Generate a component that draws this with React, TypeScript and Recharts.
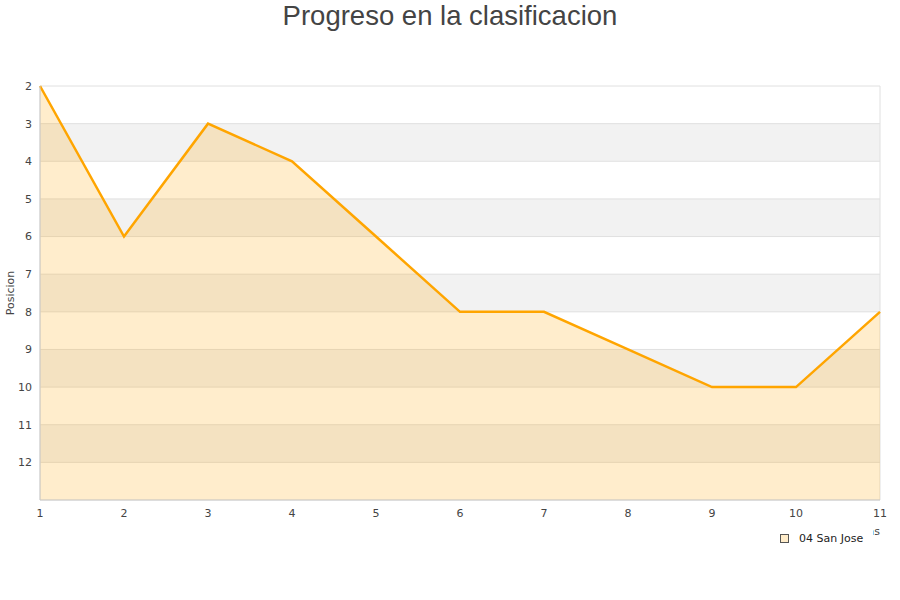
import {
  Area,
  CartesianGrid,
  ComposedChart,
  Label,
  XAxis,
  YAxis,
} from 'recharts';

const ORANGE = '#ffa500';
const FONT = '"DejaVu Sans", sans-serif';

// matchdays and league position after each one
const jornadas = [1, 2, 3, 4, 5, 6, 7, 8, 9, 10, 11];
const posiciones = [2, 6, 3, 4, 6, 8, 8, 9, 10, 10, 8];
const yTicks = [2, 3, 4, 5, 6, 7, 8, 9, 10, 11, 12, 13];
const equipo = '04 San Jose';

const data = jornadas.map((j, i) => ({ jornada: j, posicion: posiciones[i] }));

function LegendBox() {
  return (
    <div
      style={{
        position: 'absolute',
        left: 776,
        top: 527,
        background: '#fff',
        width: 97,
        height: 22,
        display: 'flex',
        alignItems: 'center',
        fontFamily: FONT,
        fontSize: 11,
        color: '#222',
      }}
    >
      <span
        style={{
          display: 'inline-block',
          width: 7,
          height: 7,
          border: '1px solid #555',
          background: '#ffecc9',
          marginLeft: 4,
          marginRight: 10,
        }}
      />
      {equipo}
    </div>
  );
}

export default function App() {
  return (
    <div style={{ position: 'absolute', left: 0, top: 0, width: 900, height: 600, background: '#fff' }}>
      <div
        style={{
          position: 'absolute',
          top: 0,
          width: 900,
          textAlign: 'center',
          fontFamily: '"Liberation Sans", Arial, sans-serif',
          fontSize: 27.5,
          color: '#444',
          lineHeight: '32px',
        }}
      >
        Progreso en la clasificacion
      </div>
      <ComposedChart width={900} height={600} data={data} margin={{ top: 86, right: 20, bottom: 70, left: 0 }}>
        <CartesianGrid
          stroke="#e0e0e0"
          horizontalFill={['#ffffff', '#f2f2f2']}
          verticalCoordinatesGenerator={() => [40, 880]}
        />
        <XAxis
          dataKey="jornada"
          type="number"
          domain={[1, 11]}
          ticks={jornadas}
          height={30}
          tickLine={false}
          tickSize={0}
          tickMargin={9}
          axisLine={{ stroke: '#ccc' }}
          tick={{ fill: '#444', fontSize: 11, fontFamily: FONT }}
        >
          <Label
            content={() => (
              <text x={880} y={535} textAnchor="end" fontSize={11} fontFamily={FONT} fill="#444">
                Jornadas
              </text>
            )}
          />
        </XAxis>
        <YAxis
          type="number"
          reversed
          domain={[2, 13]}
          ticks={yTicks}
          interval={0}
          width={40}
          tickLine={false}
          tickSize={0}
          tickMargin={8}
          axisLine={{ stroke: '#ccc' }}
          tickFormatter={(v: number) => (v === 13 ? '' : String(v))}
          tick={{ fill: '#444', fontSize: 11, fontFamily: FONT }}
        >
          <Label
            content={() => (
              <text
                x={14}
                y={293}
                transform="rotate(-90 14 293)"
                textAnchor="middle"
                fontSize={11}
                fontFamily={FONT}
                fill="#444"
              >
                Posicion
              </text>
            )}
          />
        </YAxis>
        <Area
          type="linear"
          dataKey="posicion"
          name={equipo}
          baseValue={13}
          stroke={ORANGE}
          strokeWidth={2.5}
          fill={ORANGE}
          fillOpacity={0.2}
          dot={false}
          activeDot={false}
          isAnimationActive={false}
        />
      </ComposedChart>
      <LegendBox />
    </div>
  );
}
